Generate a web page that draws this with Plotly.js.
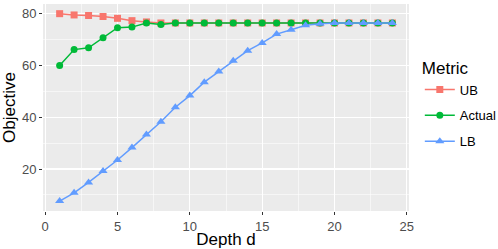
<!DOCTYPE html>
<html>
<head>
<meta charset="utf-8">
<script src="https://cdn.plot.ly/plotly-3.0.1.min.js"></script>
<style>html,body{margin:0;padding:0;background:#fff;}#chart{width:498px;height:249px;}</style>
</head>
<body>
<div id="chart"></div>
<script>
const depth = [1,2,3,4,5,6,7,8,9,10,11,12,13,14,15,16,17,18,19,20,21,22,23,24];
const ub = [80.1,79.6,79.4,79.0,78.3,77.4,76.9,76.5,76.5,76.5,76.5,76.5,76.5,76.5,76.5,76.5,76.5,76.5,76.5,76.5,76.5,76.5,76.5,76.5];
const actual = [60.0,66.2,66.9,70.8,74.7,74.9,76.5,75.9,76.5,76.5,76.5,76.5,76.5,76.5,76.5,76.5,76.5,76.5,76.5,76.5,76.5,76.5,76.5,76.5];
const lb = [7.6,10.8,14.8,19.2,23.5,28.3,33.4,38.3,43.9,48.4,53.6,57.7,61.9,65.8,68.8,72.2,73.9,75.6,76.2,76.5,76.5,76.5,76.5,76.5];
const seriesNames = ["UB","Actual","LB"];
const colors = ["#F8766D","#00BA38","#619CFF"];
const symbols = ["square","circle","triangle-up"];
const sizes = [7,7,8];
const values = [ub, actual, lb];

const traces = values.map((v,i)=>({
  x: depth, y: v, name: seriesNames[i], type: 'scatter', mode: 'lines+markers',
  line: {color: colors[i], width: 1.5},
  marker: {color: colors[i], symbol: symbols[i], size: sizes[i]},
  legendgroup: 'g'+i
}));

const axisCommon = {
  showline: false, zeroline: false, showgrid: true, gridcolor: '#FFFFFF', gridwidth: 1.1,
  ticks: 'outside', ticklen: 3, tickcolor: '#333333', tickwidth: 1,
  tickfont: {family: 'Liberation Sans, Arial, sans-serif', size: 13, color: '#4D4D4D'},
  minor: {showgrid: true, gridcolor: '#FFFFFF', gridwidth: 0.55, ticks: ''}
};

const layout = {
  width: 498, height: 249,
  margin: {l: 43, r: 89, t: 4, b: 38, autoexpand: false},
  paper_bgcolor: '#FFFFFF', plot_bgcolor: '#EBEBEB',
  font: {family: 'Liberation Sans, Arial, sans-serif', color: '#000000'},
  xaxis: Object.assign({}, axisCommon, {
    range: [-0.15, 25.15], tickvals: [0,5,10,15,20,25], ticktext: ['0','5','10','15','20','25'],
    minor: Object.assign({}, axisCommon.minor, {tickvals: [2.5,7.5,12.5,17.5,22.5]}),
    title: {text: 'Depth d', font: {size: 17, color: '#000'}, standoff: 0}
  }),
  yaxis: Object.assign({}, axisCommon, {
    range: [3.76, 83.84], tickvals: [20,40,60,80], ticktext: ['20','40','60','80'],
    minor: Object.assign({}, axisCommon.minor, {tickvals: [10,30,50,70]}),
    title: {text: 'Objective', font: {size: 17, color: '#000'}, standoff: 4}
  }),
  legend: {
    xref: 'container', x: 0.843, xanchor: 'left', y: 0.515, yanchor: 'middle',
    title: {text: 'Metric', font: {size: 17, color: '#000'}},
    font: {size: 13, color: '#000'}, traceorder: 'grouped', tracegroupgap: 6,
    itemwidth: 30, bgcolor: 'rgba(0,0,0,0)'
  },
  showlegend: true
};

Plotly.newPlot('chart', traces, layout, {displayModeBar: false, staticPlot: true});
</script>
</body>
</html>
